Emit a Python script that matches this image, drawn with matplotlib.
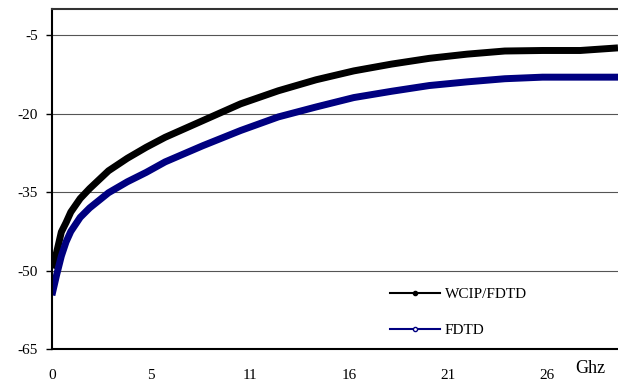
import matplotlib.pyplot as plt
from matplotlib.lines import Line2D

plt.rcParams["font.family"] = ["Liberation Serif", "DejaVu Serif"]
plt.rcParams["axes.unicode_minus"] = False

# frequency (GHz) and values
freq = [0, 0.25, 0.5, 0.75, 1, 1.5, 2, 3, 4, 5, 6, 8, 10, 12, 14, 16, 18, 20, 22, 24, 26, 28, 30]
wcip = [-49.5, -46.5, -42.6, -40.8, -38.8, -36.2, -34.3, -30.9, -28.5, -26.4, -24.5, -21.3,
        -18.1, -15.6, -13.5, -11.8, -10.5, -9.4, -8.6, -8.0, -7.9, -7.9, -7.4]
fdtd = [-54.7, -50.8, -47.2, -44.5, -42.5, -39.8, -38.0, -35.1, -33.0, -31.2, -29.2, -26.1,
        -23.2, -20.6, -18.7, -16.9, -15.7, -14.6, -13.9, -13.3, -13.0, -13.0, -13.0]

xtick_pos = [0, 5.25, 10.5, 15.75, 21, 26.25]
xtick_lab = ["0", "5", "11", "16", "21", "26"]
ytick_pos = [-65, -50, -35, -20, -5]

fig = plt.figure(figsize=(6.18, 3.82), dpi=100)
ax = fig.add_axes([0.084, 0.086, 0.916, 0.89])

ax.plot(freq, wcip, color="black", lw=5, solid_capstyle="butt")
ax.plot(freq, fdtd, color="#000080", lw=5, solid_capstyle="butt")

ax.set_xlim(0, 30)
ax.set_ylim(-65, 0)
ax.set_yticks(ytick_pos)
ax.set_xticks(xtick_pos)
ax.set_xticklabels(xtick_lab)
ax.tick_params(axis="x", length=0, pad=14, labelsize=11)
ax.tick_params(axis="y", length=4, width=1, labelsize=11, pad=6)
ax.yaxis.grid(True, color="#555555", lw=0.8)
ax.set_axisbelow(True)

for s in ["left", "bottom"]:
    ax.spines[s].set_linewidth(1.5)
ax.spines["top"].set_linewidth(1.5)
ax.spines["top"].set_color("#333333")
ax.spines["right"].set_visible(False)

handles = [
    Line2D([], [], color="black", lw=1.5, marker="o", markersize=3),
    Line2D([], [], color="#000080", lw=1.5, marker="o", markersize=3, markerfacecolor="white"),
]
ax.legend(handles, ["WCIP/FDTD", "FDTD"], loc="upper left", bbox_to_anchor=(0.573, 0.222),
          frameon=False, fontsize=11, handlelength=3.3, labelspacing=1.45, handletextpad=0.3)

fig.text(0.955, 0.035, "Ghz", fontsize=13, ha="center", va="center")

fig.savefig("out.png")
